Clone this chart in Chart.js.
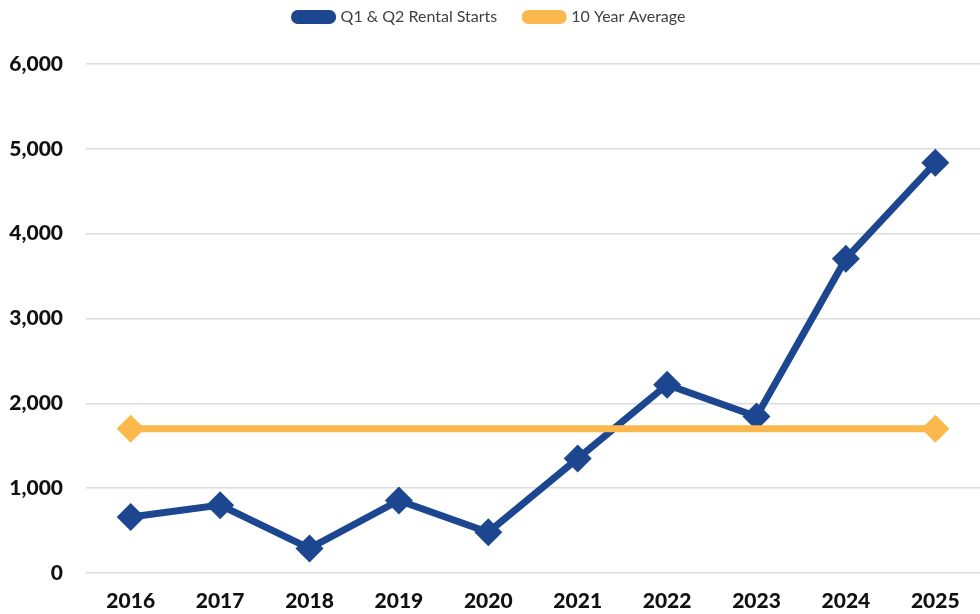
<!DOCTYPE html>
<html>
<head>
<meta charset="utf-8">
<script src="https://cdn.jsdelivr.net/npm/chart.js@4"></script>
<style>
  body { margin: 0; background: #fff; }
  #chartBox { width: 980px; height: 614px; }
</style>
</head>
<body>
<div id="chartBox"><canvas id="rental-plot" width="980" height="614"></canvas></div>
<script>
// years on the x axis
const years = ['2016', '2017', '2018', '2019', '2020', '2021', '2022', '2023', '2024', '2025'];
// Q1 + Q2 rental starts per year
const rentalStarts = [660, 800, 290, 855, 480, 1350, 2220, 1845, 3705, 4835];
// flat 10 year average line
const tenYearAvg = [1700, 1700, 1700, 1700, 1700, 1700, 1700, 1700, 1700, 1700];
// only the two ends of the average line get a marker
const avgMarkers = [14, 0, 0, 0, 0, 0, 0, 0, 0, 14];

const blue = '#1d4690';
const orange = '#fbb84c';

// push the plot area down a bit under the legend
const legendGap = {
    id: 'legendGap',
    beforeLayout(chart) {
        if (chart.legend && !chart.legend._gapSet) {
            const fitFn = chart.legend.fit;
            chart.legend.fit = function () {
                fitFn.call(this);
                this.height += 29;
            };
            chart.legend._gapSet = true;
        }
    }
};

const rentalPlot = new Chart('rental-plot', {
    type: 'line',
    data: {
        labels: years,
        datasets: [{
            label: 'Q1 & Q2 Rental Starts',
            data: rentalStarts,
            borderColor: blue,
            backgroundColor: blue,
            borderWidth: 7,
            pointStyle: 'rectRot',
            pointRadius: 14,
            pointBorderWidth: 0,
            pointBackgroundColor: blue,
            tension: 0,
            order: 2
        }, {
            label: '10 Year Average',
            data: tenYearAvg,
            borderColor: orange,
            backgroundColor: orange,
            borderWidth: 7,
            pointStyle: 'rectRot',
            pointRadius: avgMarkers,
            pointBorderWidth: 0,
            pointBackgroundColor: orange,
            tension: 0,
            order: 1
        }]
    },
    options: {
        responsive: false,
        animation: false,
        layout: { autoPadding: false, padding: { left: 0, right: 0, top: -19, bottom: 0 } },
        scales: {
            x: {
                offset: true,
                grid: { display: false, drawTicks: false },
                border: { display: false },
                ticks: {
                    color: '#111',
                    padding: 16,
                    font: { family: 'Lato', size: 21, weight: '900' }
                },
                afterFit: (axis) => {
                    axis.height = 41;
                    axis.paddingLeft = 0;
                    axis.paddingRight = 0;
                }
            },
            y: {
                min: 0,
                max: 6000,
                grid: { color: '#dcdcdc', lineWidth: 1.5, drawTicks: false },
                border: { display: false },
                ticks: {
                    stepSize: 1000,
                    color: '#111',
                    padding: 23,
                    font: { family: 'Lato', size: 21, weight: '900' },
                    callback: (v) => v.toLocaleString('en-US')
                },
                afterFit: (axis) => { axis.width = 86; }
            }
        },
        plugins: {
            tooltip: { enabled: false },
            legend: {
                display: true,
                position: 'top',
                labels: {
                    boxWidth: 38,
                    boxHeight: 7,
                    useBorderRadius: true,
                    borderRadius: 3,
                    padding: 28,
                    color: '#404040',
                    font: { family: 'Lato', size: 16 },
                    sort: (a, b) => a.datasetIndex - b.datasetIndex
                }
            }
        }
    },
    plugins: [legendGap]
});
</script>
</body>
</html>
